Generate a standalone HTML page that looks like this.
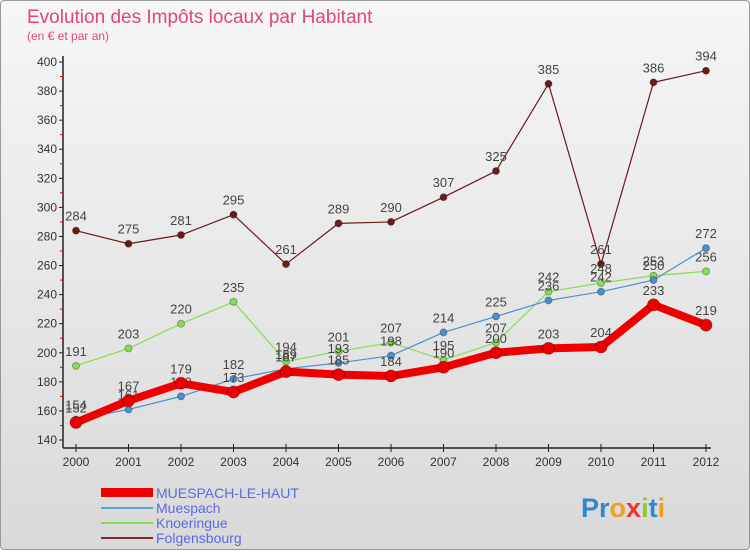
<!DOCTYPE html>
<html><head><meta charset="utf-8"><style>
body{margin:0;width:750px;height:550px;overflow:hidden;font-family:"Liberation Sans",sans-serif}
#c{position:relative;width:748px;height:548px;border:1px solid #999;border-radius:4px;background:linear-gradient(#f6f6f6,#d9d9d9)}
</style></head><body>
<div id="c">
<svg id="s" width="748" height="548" xmlns="http://www.w3.org/2000/svg">
<text x="26" y="22" font-size="19" fill="#e0457b">Evolution des Impôts locaux par Habitant</text>
<text x="26" y="39" font-size="12" fill="#e0457b">(en € et par an)</text>
<g id="axes"></g><g id="series"></g>
<g>
<rect x="100" y="487" width="52" height="9" fill="#ee0000"/>
<text x="155" y="497" font-size="14" fill="#5a6be0">MUESPACH-LE-HAUT</text>
<line x1="100" y1="507" x2="152" y2="507" stroke="#5aa0d8" stroke-width="2"/>
<text x="155" y="512" font-size="14" fill="#5a6be0">Muespach</text>
<line x1="100" y1="522" x2="152" y2="522" stroke="#88dd55" stroke-width="2"/>
<text x="155" y="527" font-size="14" fill="#5a6be0">Knoeringue</text>
<line x1="100" y1="537" x2="152" y2="537" stroke="#7a2a2a" stroke-width="2"/>
<text x="155" y="542" font-size="14" fill="#5a6be0">Folgensbourg</text>
</g>
<text x="580" y="516" font-size="27" font-weight="bold" fill="#3388cc">Pr<tspan fill="#f0a020">o</tspan><tspan fill="#ee3333">x</tspan><tspan fill="#88cc33">i</tspan><tspan fill="#3388cc">t</tspan><tspan fill="#f0a020">i</tspan></text>
</svg></div>
<script>
const years=[2000,2001,2002,2003,2004,2005,2006,2007,2008,2009,2010,2011,2012];
const yTicks=[140,160,180,200,220,240,260,280,300,320,340,360,380,400];
const main=[152,167,179,173,187,185,184,190,200,203,204,233,219];
const muespach=[154,161,170,182,189,193,198,214,225,236,242,250,272];
const knoeringue=[191,203,220,235,194,201,207,195,207,242,248,253,256];
const folgensbourg=[284,275,281,295,261,289,290,307,325,385,261,386,394];
const NS='http://www.w3.org/2000/svg';
const X=i=>75+i*52.5, Y=v=>439-(v-140)*(378/260);
function mk(t,a,p){const e=document.createElementNS(NS,t);for(const k in a)e.setAttribute(k,a[k]);p.appendChild(e);return e;}
const ax=document.getElementById('axes'),sg=document.getElementById('series');
let l=mk('line',{x1:62,y1:55,x2:62,y2:447,stroke:'#222','stroke-width':1.5},ax);

l=mk('line',{x1:62,y1:447,x2:710,y2:447,stroke:'#222','stroke-width':1.5},ax);

yTicks.forEach((v,i)=>{mk('line',{x1:58,y1:Y(v),x2:62,y2:Y(v),stroke:'#222'},ax);
 if(i<yTicks.length-1)mk('line',{x1:59,y1:Y(v+10),x2:62,y2:Y(v+10),stroke:'#e00'},ax);
 const t=mk('text',{x:56,y:Y(v)+4,'text-anchor':'end','font-size':12,fill:'#333'},ax);t.textContent=v;
 });
years.forEach((y,i)=>{mk('line',{x1:X(i),y1:443,x2:X(i),y2:451,stroke:'#222'},ax);
 const t=mk('text',{x:X(i),y:465,'text-anchor':'middle','font-size':12,fill:'#333'},ax);t.textContent=y;
 });
function series(d,col,w,r,name){const g=mk('g',{},sg);
 const p=mk('polyline',{points:d.map((v,i)=>X(i)+','+Y(v)).join(' '),fill:'none',stroke:col,'stroke-width':w,'stroke-linejoin':'round'},g);
 
 d.forEach((v,i)=>{const c=mk('circle',{cx:X(i),cy:Y(v),r:r,fill:col,stroke:'rgba(0,0,0,0.3)'},g);
  
  const t=mk('text',{x:X(i),y:Y(v)-10,'text-anchor':'middle','font-size':13,fill:'#444'},g);t.textContent=v;
  });}
series(folgensbourg,'#6b1a1a',1.2,3.5,'folgensbourg');
series(knoeringue,'#88dd55',1.2,3.5,'knoeringue');
series(muespach,'#4a90cc',1.2,3.5,'muespach');
series(main,'#ee0000',8,6,'muespach-le-haut');
</script></body></html>
